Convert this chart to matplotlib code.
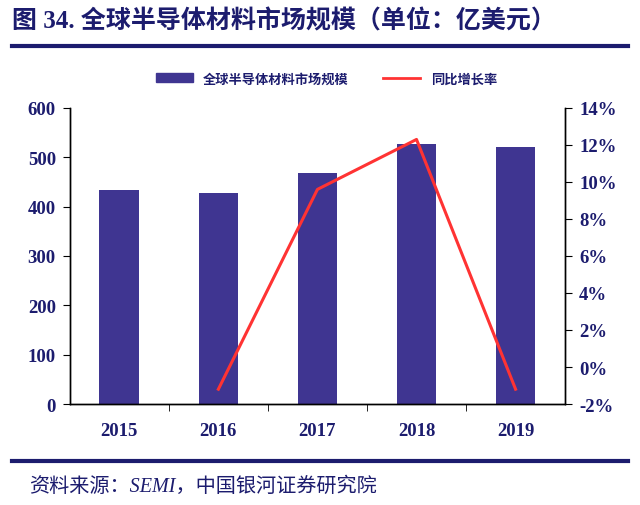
import numpy as np
import matplotlib.pyplot as plt
from matplotlib.lines import Line2D
from matplotlib.patches import Patch

# 数据
years = ['2015', '2016', '2017', '2018', '2019']
market_size = [433, 428, 469, 527, 521]          # 亿美元
growth_years = ['2016', '2017', '2018', '2019']
growth_rate = [-1.2, 9.6, 12.3, -1.2]            # %

navy = '#1c1c6e'
bar_color = '#3f3591'
red = '#ff3333'
fam = ['Liberation Serif', 'Noto Sans CJK SC']

plt.rcParams['font.family'] = fam

fig = plt.figure(figsize=(6.4, 5.06), dpi=100)
ax = fig.add_axes([0.109, 0.1996, 0.774, 0.585])

x = np.arange(len(years))
ax.bar(x, market_size, width=0.4, color=bar_color, zorder=2)
ax.set_xlim(-0.5, len(years) - 0.5)
ax.set_ylim(0, 600)
ax.set_yticks(range(0, 601, 100))

ax2 = ax.twinx()
gx = [years.index(y) for y in growth_years]
ax2.plot(gx, growth_rate, color=red, lw=2.2, zorder=3)
ax2.set_ylim(-2, 14)
ax2.set_yticks(range(-2, 15, 2))
ax2.set_yticklabels([f'{v}%' for v in range(-2, 15, 2)])

for a in (ax, ax2):
    a.spines['top'].set_visible(False)
    for s in ('left', 'right', 'bottom'):
        a.spines[s].set_color('black')
        a.spines[s].set_linewidth(1.0)

ax.set_xticks(x)
ax.set_xticklabels(years)
ax.set_xticks(np.arange(0.5, len(years) - 0.5, 1), minor=True)
ax.tick_params(axis='x', which='major', length=0, pad=13)
ax.tick_params(axis='x', which='minor', length=5, direction='out', color='black')
ax.tick_params(axis='y', length=5, direction='out', pad=5)
ax2.tick_params(axis='y', length=5, direction='out', pad=5)

for lab in ax.get_xticklabels() + ax.get_yticklabels() + ax2.get_yticklabels():
    lab.set_fontsize(13.5)
    lab.set_fontweight('bold')
    lab.set_color(navy)

# 标题与分隔线
fig.text(0.019, 0.957, '图 34. 全球半导体材料市场规模（单位：亿美元）', fontsize=18,
         fontweight='bold', color=navy, va='center', ha='left', family=fam)
fig.add_artist(Line2D([0.019, 0.981], [0.907, 0.907], color=navy, lw=3))
fig.add_artist(Line2D([0.019, 0.981], [0.087, 0.087], color=navy, lw=3))
fig.text(0.045, 0.038, '资料来源：SEMI，中国银河证券研究院', fontsize=14.5,
         style='italic', color=navy, va='center', ha='left', family=fam)

# 图例
handles = [Patch(color=bar_color), Line2D([0], [0], color=red, lw=2)]
leg = fig.legend(handles, ['全球半导体材料市场规模', '同比增长率'], loc='center',
                 bbox_to_anchor=(0.51, 0.842), ncol=2, frameon=False,
                 handlelength=2.8, handleheight=0.6, columnspacing=2.6,
                 prop={'family': fam, 'size': 9.5, 'weight': 'bold'})
for t in leg.get_texts():
    t.set_color(navy)

fig.savefig('out.png', dpi=100)
